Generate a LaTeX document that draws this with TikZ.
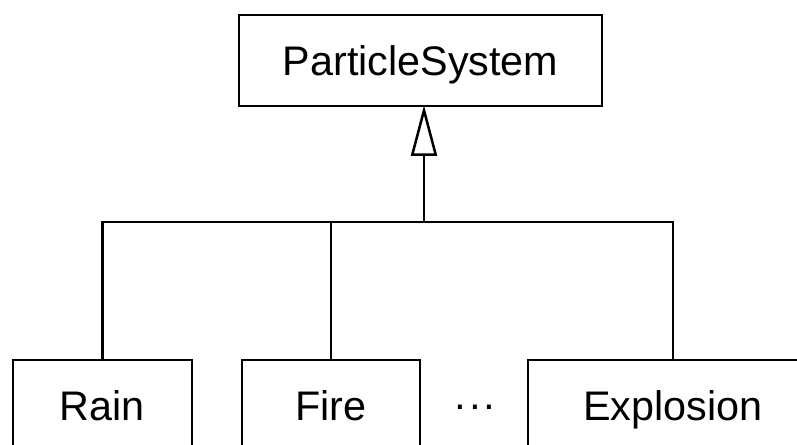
\documentclass[tikz,border=0pt]{standalone}
\usepackage{fontspec}
\setmainfont{Liberation Sans}
\usetikzlibrary{arrows.meta}
\begin{document}
\begin{tikzpicture}[x=0.75pt,y=-0.75pt,
    classbox/.style={draw, line width=1.9pt, inner sep=0pt, minimum height=68.25pt,
        text height=23pt, text depth=0pt, font=\fontsize{31}{36}\selectfont},
    link/.style={line width=1.9pt}]
    % Page frame (the lower boxes run past the bottom edge)
    \useasboundingbox[clip] (0,0) rectangle (797,445);

    % Base class
    \node[classbox, minimum width=272.25pt] (ps) at (420.5,60.5) {ParticleSystem};

    % Derived classes
    \node[classbox, minimum width=134.25pt] (rain) at (102.5,405.5) {Rain};
    \node[classbox, minimum width=133.5pt] (fire) at (331,405.5) {Fire};
    \node[font=\fontsize{31}{36}\selectfont] (dots) at (475,412) {·\kern0.5pt·\kern0.5pt·};
    \node[classbox, minimum width=217.5pt] (expl) at (673,405.5) {Explosion};

    % Inheritance tree
    \coordinate (bus) at (424,222);
    \draw[link, -{Triangle[open, length=38pt, width=19.5pt]}, shorten >=-1.5pt] (bus) -- (bus |- ps.south);
    \draw[link] (rain.north) |- (bus -| expl.north) -- (expl.north);
    \draw[link] (fire.north) -- (fire.north |- bus);
\end{tikzpicture}
\end{document}
